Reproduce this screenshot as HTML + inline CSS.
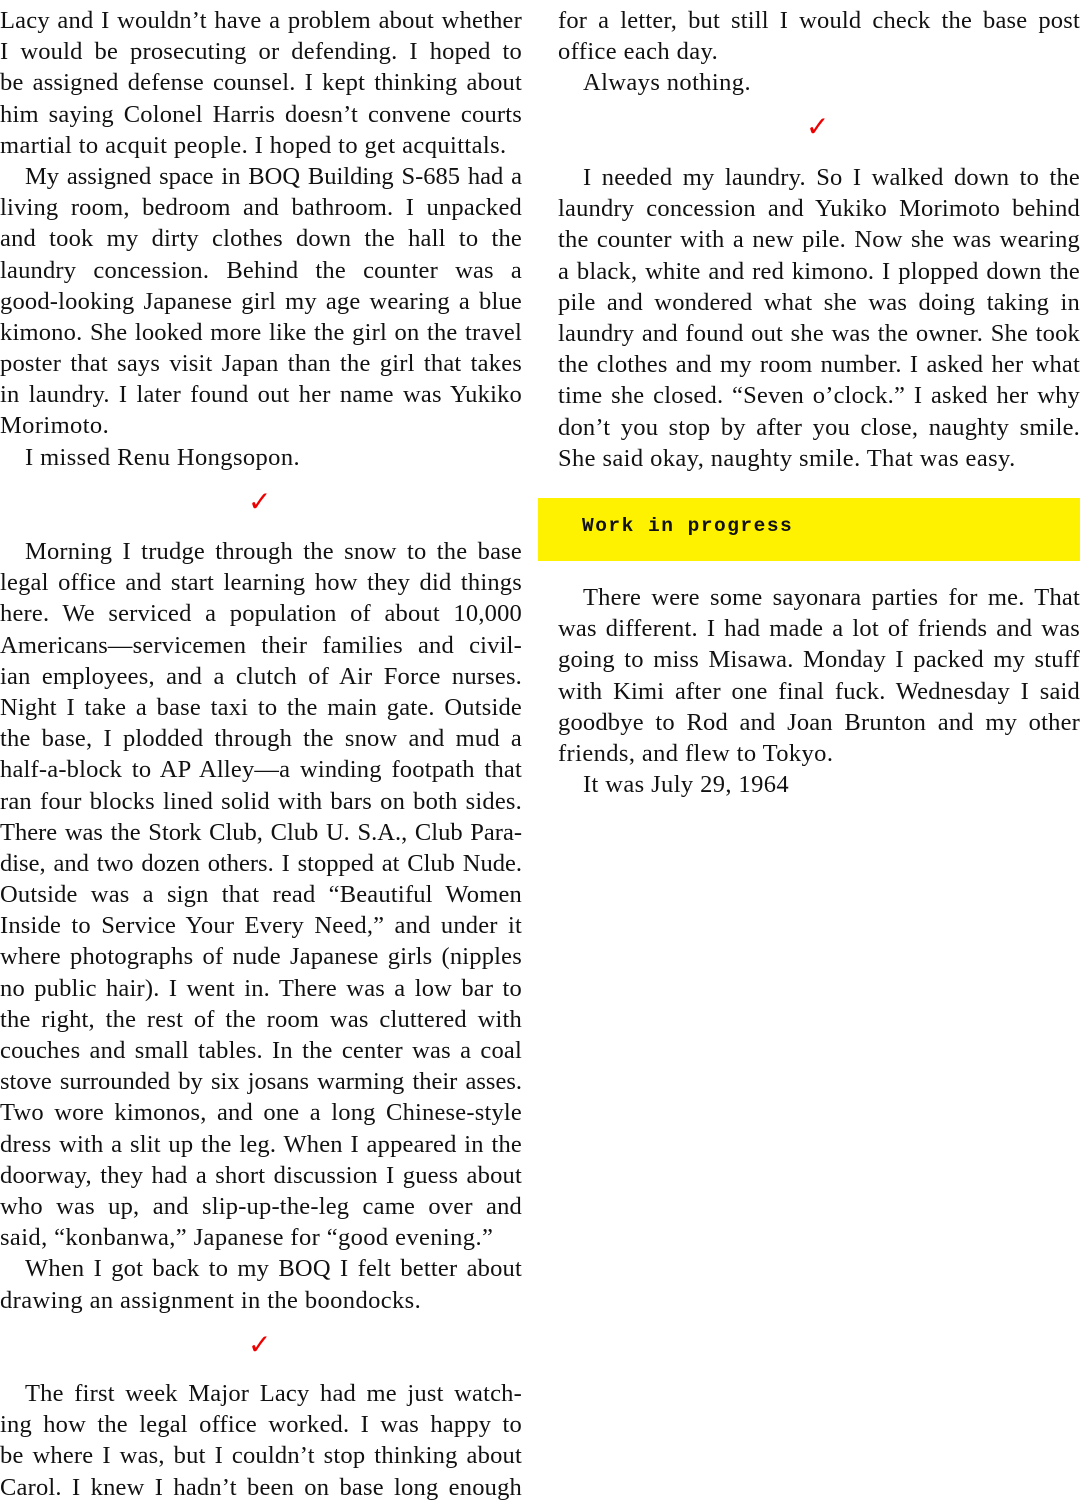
<!DOCTYPE html>
<html><head><meta charset="utf-8">
<style>
html,body{margin:0;padding:0;background:#fff;}
body{width:1080px;height:1508px;position:relative;overflow:hidden;font-family:"Liberation Serif",serif;font-size:24.5px;letter-spacing:0.2px;color:#111;}
.c{position:absolute;width:522px;}
.c div{height:31.2px;line-height:31.2px;white-space:nowrap;text-align:justify;text-align-last:justify;overflow:visible;}
.c div.e{text-align:left;text-align-last:left;letter-spacing:0.4px;}
.c div.t{letter-spacing:0;}
.c div.i{padding-left:25px;}
.chk{position:absolute;color:#e00;font-family:"DejaVu Sans",sans-serif;font-size:28px;line-height:30px;}
.yb{position:absolute;left:538px;top:498px;width:542px;height:63px;background:#fff200;}
.yb span{position:absolute;left:44px;top:17px;font-family:"Liberation Mono",monospace;font-weight:bold;font-size:19.5px;letter-spacing:1.5px;color:#111;}
</style></head><body>

<div class="c" style="left:0;top:5px">
<div>Lacy and I wouldn’t have a problem about whether</div>
<div>I would be prosecuting or defending. I hoped to</div>
<div>be assigned defense counsel. I kept thinking about</div>
<div>him saying Colonel Harris doesn’t convene courts</div>
<div class="e">martial to acquit people. I hoped to get acquittals.</div>
<div class="i t">My assigned space in BOQ Building S-685 had a</div>
<div>living room, bedroom and bathroom. I unpacked</div>
<div>and took my dirty clothes down the hall to the</div>
<div>laundry concession. Behind the counter was a</div>
<div>good-looking Japanese girl my age wearing a blue</div>
<div>kimono. She looked more like the girl on the travel</div>
<div>poster that says visit Japan than the girl that takes</div>
<div>in laundry. I later found out her name was Yukiko</div>
<div class="e">Morimoto.</div>
<div class="e i">I missed Renu Hongsopon.</div>
</div>
<div class="chk" style="left:248px;top:487px">✓</div>

<div class="c" style="left:0;top:536px">
<div class="i">Morning I trudge through the snow to the base</div>
<div>legal office and start learning how they did things</div>
<div>here. We serviced a population of about 10,000</div>
<div>Americans—servicemen their families and civil-</div>
<div>ian employees, and a clutch of Air Force nurses.</div>
<div>Night I take a base taxi to the main gate. Outside</div>
<div>the base, I plodded through the snow and mud a</div>
<div>half-a-block to AP Alley—a winding footpath that</div>
<div>ran four blocks lined solid with bars on both sides.</div>
<div class="t">There was the Stork Club, Club U. S.A., Club Para-</div>
<div class="t">dise, and two dozen others. I stopped at Club Nude.</div>
<div>Outside was a sign that read “Beautiful Women</div>
<div>Inside to Service Your Every Need,” and under it</div>
<div>where photographs of nude Japanese girls (nipples</div>
<div>no public hair). I went in. There was a low bar to</div>
<div>the right, the rest of the room was cluttered with</div>
<div>couches and small tables. In the center was a coal</div>
<div class="t">stove surrounded by six josans warming their asses.</div>
<div>Two wore kimonos, and one a long Chinese-style</div>
<div>dress with a slit up the leg. When I appeared in the</div>
<div>doorway, they had a short discussion I guess about</div>
<div>who was up, and slip-up-the-leg came over and</div>
<div class="e">said, “konbanwa,” Japanese for “good evening.”</div>
<div class="i">When I got back to my BOQ I felt better about</div>
<div class="e">drawing an assignment in the boondocks.</div>
</div>
<div class="chk" style="left:248px;top:1330px">✓</div>

<div class="c" style="left:0;top:1378px">
<div class="i">The first week Major Lacy had me just watch-</div>
<div>ing how the legal office worked. I was happy to</div>
<div>be where I was, but I couldn’t stop thinking about</div>
<div>Carol. I knew I hadn’t been on base long enough</div>
</div>

<div class="c" style="left:558px;top:5px">
<div>for a letter, but still I would check the base post</div>
<div class="e">office each day.</div>
<div class="e i">Always nothing.</div>
</div>
<div class="chk" style="left:806px;top:112px">✓</div>

<div class="c" style="left:558px;top:162px">
<div class="i">I needed my laundry. So I walked down to the</div>
<div>laundry concession and Yukiko Morimoto behind</div>
<div>the counter with a new pile. Now she was wearing</div>
<div>a black, white and red kimono. I plopped down the</div>
<div>pile and wondered what she was doing taking in</div>
<div>laundry and found out she was the owner. She took</div>
<div>the clothes and my room number. I asked her what</div>
<div>time she closed. “Seven o’clock.” I asked her why</div>
<div>don’t you stop by after you close, naughty smile.</div>
<div class="e">She said okay, naughty smile. That was easy.</div>
</div>

<div class="yb"><span>Work in progress</span></div>

<div class="c" style="left:558px;top:582px">
<div class="i">There were some sayonara parties for me. That</div>
<div>was different. I had made a lot of friends and was</div>
<div>going to miss Misawa. Monday I packed my stuff</div>
<div>with Kimi after one final fuck. Wednesday I said</div>
<div>goodbye to Rod and Joan Brunton and my other</div>
<div class="e">friends, and flew to Tokyo.</div>
<div class="e i">It was July 29, 1964</div>
</div>

</body></html>
